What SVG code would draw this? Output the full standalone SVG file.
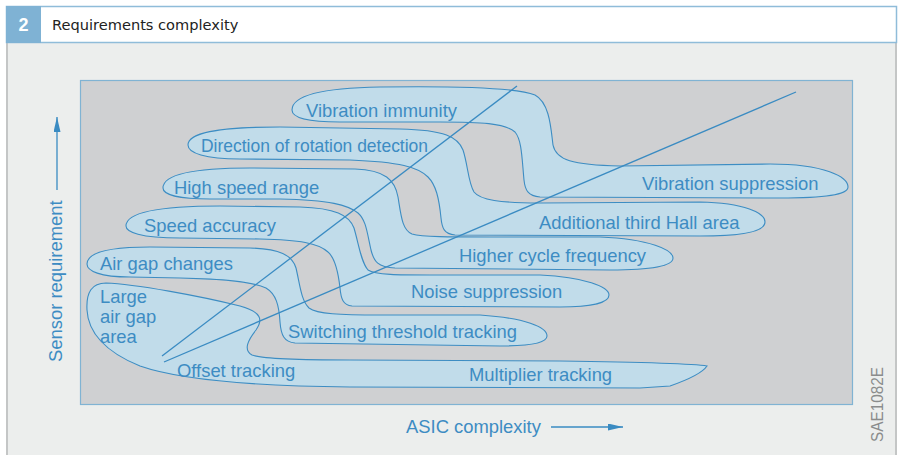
<svg xmlns="http://www.w3.org/2000/svg" width="899" height="455" viewBox="0 0 899 455">
<style>
.band{fill:#c1dcea;stroke:#3d8dc3;stroke-width:1.1}
.lbl{font-family:"Liberation Sans",Arial,sans-serif;font-size:18.4px;fill:#3d8cc3}
.ln{stroke:#3a8bc2;stroke-width:1.3;fill:none}
</style>
<defs>
<marker id="ah" viewBox="0 0 10 10" refX="10" refY="5" markerWidth="15" markerHeight="7" markerUnits="userSpaceOnUse" orient="auto" preserveAspectRatio="none">
<path d="M0,0 L10,5 L0,10 Z" fill="#3a8bc2"/>
</marker>
</defs>
<rect x="0" y="0" width="899" height="455" fill="#ffffff"/>
<rect x="6" y="43" width="891" height="412" fill="#eceeed"/>
<line x1="7" y1="43" x2="7" y2="455" stroke="#c4c6c6" stroke-width="2"/>
<line x1="896" y1="43" x2="896" y2="455" stroke="#c4c6c6" stroke-width="2"/>
<g id="header">
<rect x="6.5" y="6.5" width="890" height="36" fill="#ffffff" stroke="#8fbcd9" stroke-width="1.5"/>
<rect x="6" y="6" width="35" height="37" fill="#7fb2d4"/>
<text x="23.5" y="31" text-anchor="middle" font-family="'Liberation Sans',Arial,sans-serif" font-weight="bold" font-size="18" fill="#ffffff">2</text>
<text x="52" y="30" font-family="'DejaVu Sans',sans-serif" font-size="14.6" fill="#222222">Requirements complexity</text>
</g>
<rect x="80.5" y="80.5" width="772" height="324" fill="#cfd0d2" stroke="#80b3d3" stroke-width="1.2"/>
<g id="band-vibration">
<path class="band" d="M292,110 C292,96 318,88 380,87 C450,86 515,87 535,95 C550,103 551,130 553,145 C556,160 572,165 620,166 L770,164 C825,164 848,177 848,187 C848,195 825,198 780,198 L540,197 C528,196 525,190 524,180 C522,160 522,140 515,132 C505,123 480,122 440,122 L340,122 C305,122 292,117 292,110 Z"/>
<text class="lbl" x="306" y="116.5">Vibration immunity</text>
<text class="lbl" x="642" y="190">Vibration suppression</text>
</g>
<g id="band-direction">
<path class="band" d="M188,145 C188,133 215,127 280,127 L400,129 C445,130 458,137 463,150 C468,165 468,182 474,192 C480,200 500,203 540,203 L700,202 C745,203 765,213 765,222 C765,231 745,236 700,236 L455,235 C444,234 442,228 441,218 C439,198 436,185 428,177 C418,167 400,162 350,160 L240,159 C205,159 188,153 188,145 Z"/>
<text class="lbl" x="201" y="151.5" textLength="227" lengthAdjust="spacingAndGlyphs">Direction of rotation detection</text>
<text class="lbl" x="539" y="229">Additional third Hall area</text>
</g>
<g id="band-speedrange">
<path class="band" d="M163,188 C163,175 190,168 250,168 L355,169 C385,170 395,180 398,197 C401,215 402,230 412,234 C422,237 450,237 490,237 L600,237 C650,239 673,250 673,258 C673,266 650,270 610,270 L395,268 C378,267 374,262 371,250 C367,232 366,220 358,213 C348,205 330,200 280,199 L210,199 C180,199 163,195 163,188 Z"/>
<text class="lbl" x="174" y="194">High speed range</text>
<text class="lbl" x="459" y="262">Higher cycle frequency</text>
</g>
<g id="band-accuracy">
<path class="band" d="M126,226 C126,213 155,206 220,206 L300,207 C335,208 349,215 354,228 C359,245 361,262 368,270 C375,275 400,275 430,275 L540,275 C585,277 609,287 609,295 C609,303 590,307 560,307 L352,306 C343,305 341,299 340,288 C338,270 335,258 328,252 C318,243 300,240 260,239 L180,238 C140,238 126,232 126,226 Z"/>
<text class="lbl" x="144" y="232">Speed accuracy</text>
<text class="lbl" x="411" y="298">Noise suppression</text>
</g>
<g id="band-airgap">
<path class="band" d="M87,264 C87,253 105,247 150,247 L250,248 C280,249 292,255 296,268 C300,285 301,300 309,308 C317,314 340,315 380,315 L480,315 C525,318 547,327 547,336 C547,343 530,346 500,346 L295,343 C284,342 281,335 280,322 C279,305 276,294 266,288 C252,281 220,279 180,278 L130,277 C100,277 87,271 87,264 Z"/>
<text class="lbl" x="100" y="270">Air gap changes</text>
<text class="lbl" x="288" y="338">Switching threshold tracking</text>
</g>
<g id="band-largegap">
<path class="band" d="M87,310 C86,292 92,283 106,283 C135,284 200,296 240,306 C262,312 263,320 256,330 C248,340 243,350 252,355 C262,359 300,360 350,360 L560,361 C630,362 690,363 707,366 C703,372 690,379 670,386 L640,388 L350,387 C250,386 180,380 140,366 C105,352 88,332 87,310 Z"/>
<text class="lbl" x="100" y="303">Large</text>
<text class="lbl" x="100" y="323">air gap</text>
<text class="lbl" x="100" y="343">area</text>
<text class="lbl" x="177" y="377">Offset tracking</text>
<text class="lbl" x="469" y="381">Multiplier tracking</text>
</g>
<g id="connectors">
<line class="ln" x1="162" y1="356" x2="517" y2="86"/>
<line class="ln" x1="164" y1="362" x2="796" y2="92"/>
<line class="ln" x1="57" y1="190" x2="57" y2="117" marker-end="url(#ah)"/>
<line class="ln" x1="551" y1="427" x2="623" y2="427" marker-end="url(#ah)"/>
</g>
<g id="axes">
<text class="lbl" transform="translate(62,362) rotate(-90)">Sensor requirement</text>
<text class="lbl" x="406" y="433">ASIC complexity</text>
<text transform="translate(883,442) rotate(-90)" font-family="'Liberation Sans',Arial,sans-serif" font-size="17" fill="#8a8c8c" textLength="75" lengthAdjust="spacingAndGlyphs">SAE1082E</text>
</g>
</svg>
